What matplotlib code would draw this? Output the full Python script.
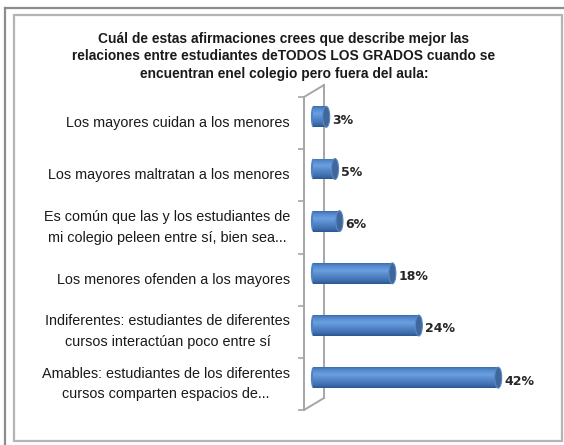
import matplotlib
matplotlib.use("Agg")
import matplotlib.pyplot as plt
import numpy as np
from matplotlib.patches import Rectangle, Ellipse
from matplotlib.lines import Line2D
from matplotlib.colors import LinearSegmentedColormap
from matplotlib.transforms import blended_transform_factory

plt.rcParams['font.family'] = ['Liberation Sans', 'DejaVu Sans']

title = ("Cuál de estas afirmaciones crees que describe mejor las\n"
         "relaciones entre estudiantes deTODOS LOS GRADOS cuando se\n"
         "encuentran enel colegio pero fuera del aula:")
categories = [
    "Los mayores cuidan a los menores",
    "Los mayores maltratan a los menores",
    "Es común que las y los estudiantes de\nmi colegio peleen entre sí, bien sea...",
    "Los menores ofenden a los mayores",
    "Indiferentes: estudiantes de diferentes\ncursos interactúan poco entre sí",
    "Amables: estudiantes de los diferentes\ncursos comparten espacios de...",
]
values = [3, 5, 6, 18, 24, 42]
value_labels = ["3%", "5%", "6%", "18%", "24%", "42%"]

W, H = 564, 445
fig = plt.figure(figsize=(W / 100, H / 100), dpi=100)
fig.patch.set_facecolor("white")

def fx(px):
    return px / W

def fy(py):
    return 1 - py / H

# frames
fig.add_artist(Line2D([fx(5), fx(564)], [fy(8), fy(8)], color="#8c8c8c", lw=1.6))
fig.add_artist(Line2D([fx(5), fx(5)], [fy(8), fy(445)], color="#8c8c8c", lw=1.6))
fig.add_artist(Rectangle((fx(14), fy(441)), fx(562) - fx(14), fy(15) - fy(441),
                         fill=False, ec="#b4b4b4", lw=1.6))

fig.text(fx(284), fy(31.5), title, ha="center", va="top", fontsize=9.9,
         fontweight="bold", linespacing=1.32, color="#1a1a1a")

ax_l, ax_r, ax_t, ax_b = 304, 540, 97, 410
ax = fig.add_axes([fx(ax_l), fy(ax_b), fx(ax_r) - fx(ax_l), fy(ax_t) - fy(ax_b)])
ax.set_facecolor("none")
for s in ax.spines.values():
    s.set_visible(False)

pxu = 4.41
x0 = -(313 - ax_l) / pxu
x1 = x0 + (ax_r - ax_l) / pxu

cmap = LinearSegmentedColormap.from_list(
    "cyl", [(0.0, "#3d6cab"), (0.12, "#5287cb"), (0.35, "#6aa0e2"),
            (0.6, "#5386c9"), (0.85, "#3f6ead"), (1.0, "#2c5690")])
grad = np.linspace(0, 1, 64).reshape(-1, 1)

bar_h = 0.4
shift = -0.12
cap_w = 7 / pxu
for i, v in enumerate(values):
    yc = i + shift
    rect = Rectangle((0, yc - bar_h / 2), v, bar_h, fc="none", ec="none")
    ax.add_patch(rect)
    im = ax.imshow(grad, cmap=cmap, aspect="auto",
                   extent=(0, v, yc + bar_h / 2, yc - bar_h / 2), zorder=2)
    im.set_clip_path(rect)
    ax.add_patch(Ellipse((0, yc), cap_w * 0.6, bar_h, fc="#4f82c4", ec="none", zorder=1.9))
    ax.add_patch(Ellipse((v, yc), cap_w, bar_h, fc="#3e679c", ec="#5a87c0",
                         lw=0.8, zorder=3))
    ax.annotate(value_labels[i], (v + cap_w / 2, yc), xytext=(2, -2.5),
                textcoords="offset points", ha="left", va="center",
                fontsize=9, fontweight="bold", color="#262626",
                family=["DejaVu Sans"])

ax.set_xlim(x0, x1)
ax.set_ylim(len(values) - 0.5, -0.5)
ax.set_xticks([])
ax.set_yticks(np.arange(-0.5, len(values), 1.0))
ax.set_yticklabels([])
ax.tick_params(axis="y", length=4, width=1.2, color="#a6a6a6", direction="out")

# 3D wall lines
wall = "#a6a6a6"
dx = 20 / (ax_r - ax_l)
dy = 12 / (ax_b - ax_t)
for xs, ys in [([0, 0], [0, 1]), ([dx, dx], [dy, 1 + dy]),
               ([0, dx], [1, 1 + dy]), ([0, dx], [0, dy])]:
    ax.add_artist(Line2D(xs, ys, transform=ax.transAxes, color=wall, lw=1.4,
                         clip_on=False, zorder=1))

trans = blended_transform_factory(ax.transAxes, ax.transData)
for i, c in enumerate(categories):
    ax.text(-14 / (ax_r - ax_l), i, c, transform=trans, ha="right", va="center",
            multialignment="center", fontsize=10.4, color="#1a1a1a", linespacing=1.6)

fig.savefig("out.png", dpi=100)
